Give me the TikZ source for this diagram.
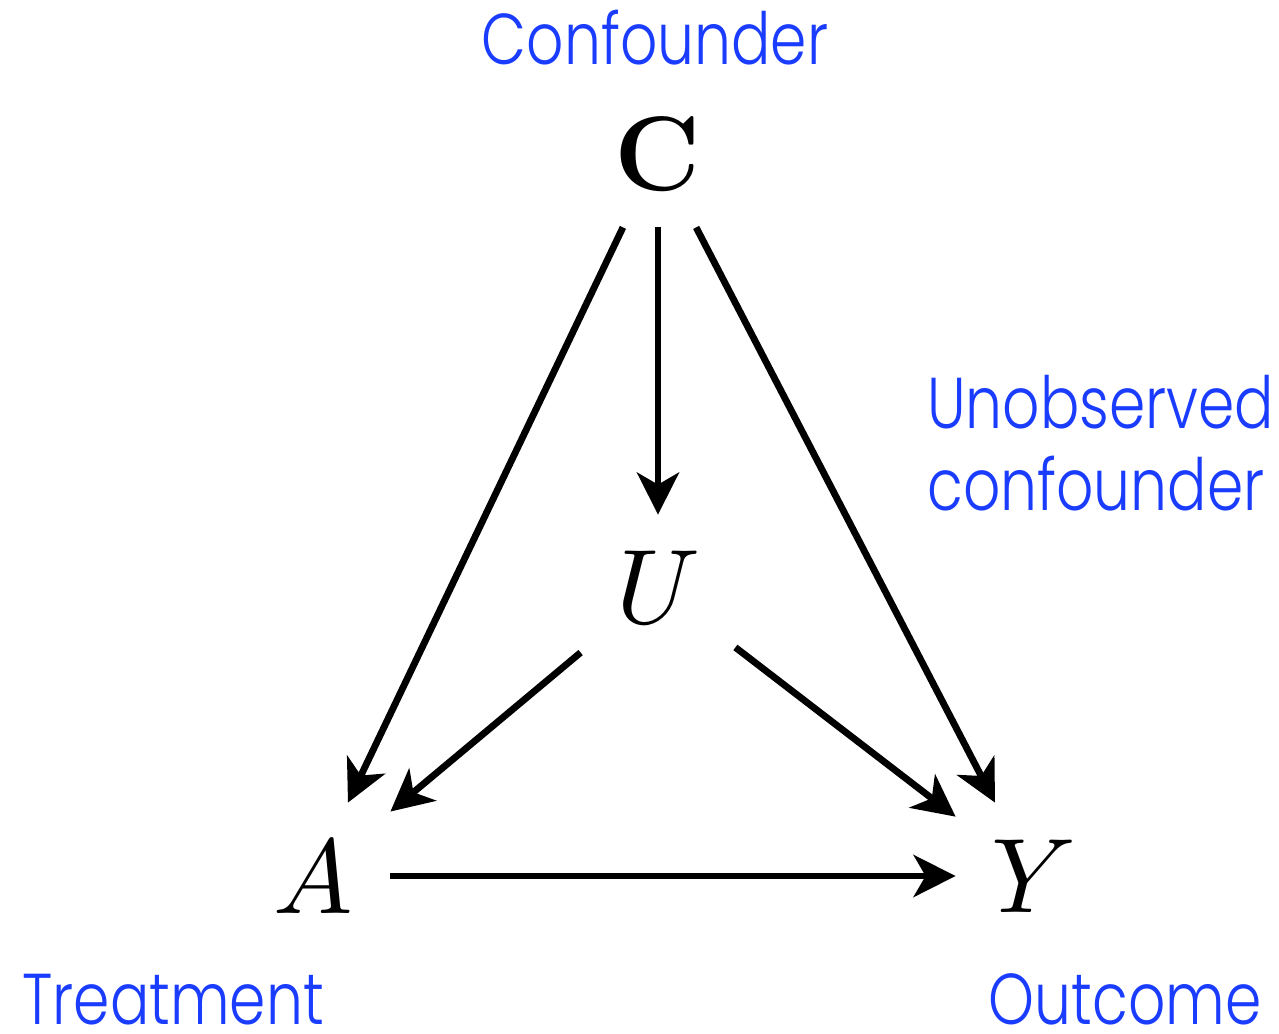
\documentclass[tikz,border=0pt]{standalone}
\usepackage{fontspec}
\usepackage{unicode-math}
\setmathfont{Latin Modern Math}
\setsansfont{Poppins Light}[FakeStretch=0.81]
\usetikzlibrary{arrows.meta, positioning}
\definecolor{dagBlue}{HTML}{1A3CFF}

\begin{document}
\begin{tikzpicture}[
  x=0.5pt, y=-0.5pt,
  var/.style={minimum width=77pt, minimum height=73pt, inner sep=0pt,
              font=\fontsize{53}{60}\selectfont},
  arr/.style={-{Stealth[length=21pt, width=21pt, inset=6pt]}, line width=3.4pt},
  tag/.style={text=dagBlue, font=\sffamily\fontsize{36}{41}\selectfont,
              inner sep=0pt}
]
  \useasboundingbox (0,0) rectangle (1279,1033);
  % Variables
  \node[var] (C) at (658,154) {$\mathbf{C}$};
  \node[var] (U) at (658,588) {$U$};
  \node[var] (A) at (313,876) {$A$};
  \node[var] (Y) at (1033,876) {$Y$};

  \draw[arr] (C) -- (A);
  \draw[arr] (C) -- (U);
  \draw[arr] (C) -- (Y);
  \draw[arr] (U) -- (A);
  \draw[arr] (U) -- (Y);
  \draw[arr] (A) -- (Y);

  % Labels
  \node[tag, anchor=base] (confLbl) at (655,64) {Confounder};
  \node[tag, anchor=base west, align=left] (unobsLbl) at (927,510) {Unobserved\\confounder};
  \node[tag, text depth=0pt, anchor=base west] (treatLbl) at (22,1024) {Treatment};
  \node[tag, text depth=0pt, anchor=base east] (outLbl) at (1262,1024) {Outcome};
\end{tikzpicture}
\end{document}
